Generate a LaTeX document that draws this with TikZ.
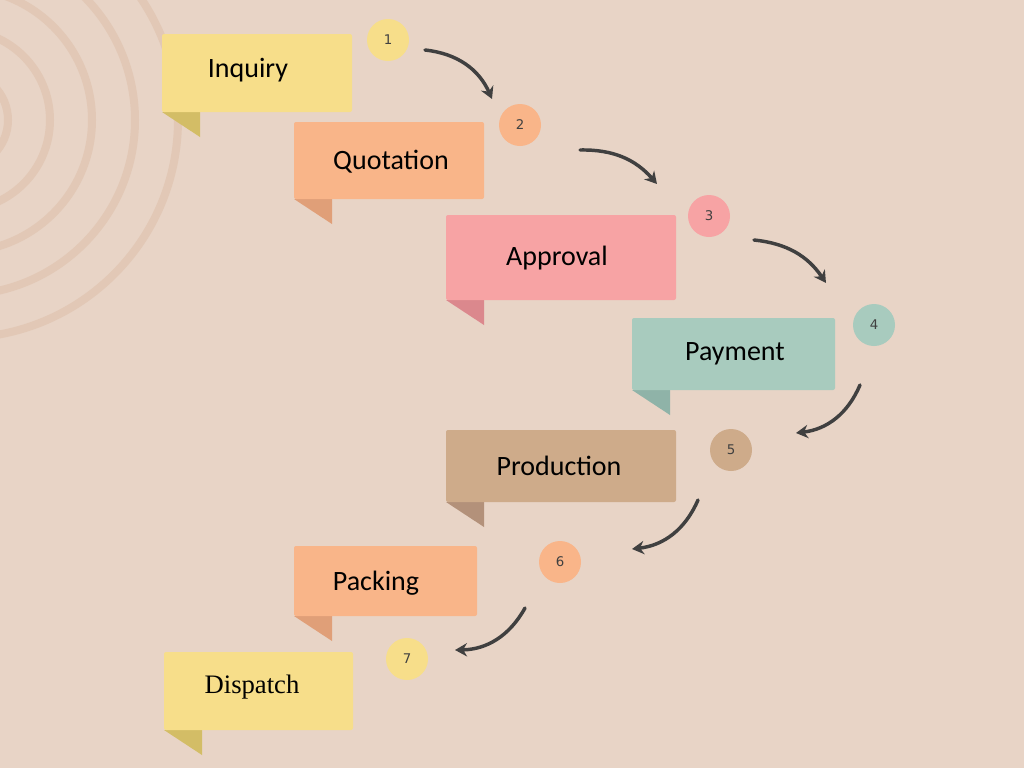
\documentclass[tikz,border=0pt]{standalone}
\usepackage{fontspec}
\setmainfont{Carlito}
\newfontfamily\serifx{Liberation Serif}
\newfontfamily\numf{DejaVu Sans}
\usetikzlibrary{arrows.meta}
\definecolor{bg}{HTML}{E8D4C6}
\definecolor{ring}{HTML}{E2C8B6}
\definecolor{cy}{HTML}{F7DE8A}\definecolor{fy}{HTML}{D3BD66}
\definecolor{co}{HTML}{F9B589}\definecolor{fo}{HTML}{E09F78}
\definecolor{cp}{HTML}{F7A3A4}\definecolor{fp}{HTML}{DB888D}
\definecolor{ct}{HTML}{A8CBBE}\definecolor{ft}{HTML}{8FB3A8}
\definecolor{cb}{HTML}{CEAB8A}\definecolor{fb}{HTML}{B3917A}
\tikzset{
 lbl/.style={font=\fontsize{21}{24}\selectfont, text=black},
 num/.style={circle, minimum size=31.5pt, inner sep=0pt, font=\numf\fontsize{10}{12}\selectfont, text=black!75},
 flow/.style={line width=2.6pt, draw=black!75, -{Stealth[length=9pt,width=10pt]}, line cap=round}
}
\newcommand{\bx}[7]{% x1 y1 x2 y2 fill fold name
 \fill[#6] (#1,#4) -- (#1+38,#4) -- (#1+38,#4+25) -- cycle;
 \fill[#5, rounded corners=1.5pt] (#1,#2) rectangle (#3,#4);
 \coordinate (#7) at ({(#1+#3)/2},{(#2+#4)/2});
}
\begin{document}
\begin{tikzpicture}[x=0.75pt,y=-0.75pt]
\fill[bg] (0,0) rectangle (1024,768);
\useasboundingbox (0,0) rectangle (1024,768);
\begin{scope}
\clip (0,0) rectangle (1024,768);
\foreach \r in {48,90,132,175,218} \draw[ring, line width=6pt] (-40,120) circle[radius=\r];
\end{scope}
\bx{162}{34}{352}{112}{cy}{fy}{b1}
\bx{294}{122}{484}{199}{co}{fo}{b2}
\bx{446}{215}{676}{300}{cp}{fp}{b3}
\bx{632}{318}{835}{390}{ct}{ft}{b4}
\bx{446}{430}{676}{502}{cb}{fb}{b5}
\bx{294}{546}{477}{616}{co}{fo}{b6}
\bx{164}{652}{353}{730}{cy}{fy}{b7}
\node[lbl] (t1) at (248,70) {Inquiry};
\node[lbl] (t2) at (391,162) {Quotation};
\node[lbl] (t3) at (557,258) {Approval};
\node[lbl] (t4) at (735,354) {Payment};
\node[lbl] (t5) at (559,466) {Production};
\node[lbl] (t6) at (376,583) {Packing};
\node[lbl, font=\serifx\fontsize{20}{24}\selectfont] (t7) at (252,687) {Dispatch};
\node[num, fill=cy] (n1) at (388,40) {1};
\node[num, fill=co] (n2) at (520,125) {2};
\node[num, fill=cp] (n3) at (709,216) {3};
\node[num, fill=ct] (n4) at (874,325) {4};
\node[num, fill=cb] (n5) at (731,450) {5};
\node[num, fill=co] (n6) at (560,562) {6};
\node[num, fill=cy] (n7) at (407,659) {7};
\coordinate (a1) at (425,50); \coordinate (e1) at (492,99);
\coordinate (a2) at (580,150); \coordinate (e2) at (657,184);
\coordinate (a3) at (754,240); \coordinate (e3) at (826,283);
\coordinate (a4) at (860,385); \coordinate (e4) at (796,433);
\coordinate (a5) at (698,500); \coordinate (e5) at (632,549);
\coordinate (a6) at (525,608); \coordinate (e6) at (455,650);
\draw[flow] (a1) to[bend left=30] (e1);
\draw[flow] (a2) to[bend left=25] (e2);
\draw[flow] (a3) to[bend left=25] (e3);
\draw[flow] (a4) to[bend left=30] (e4);
\draw[flow] (a5) to[bend left=30] (e5);
\draw[flow] (a6) to[bend left=30] (e6);
\end{tikzpicture}
\end{document}
